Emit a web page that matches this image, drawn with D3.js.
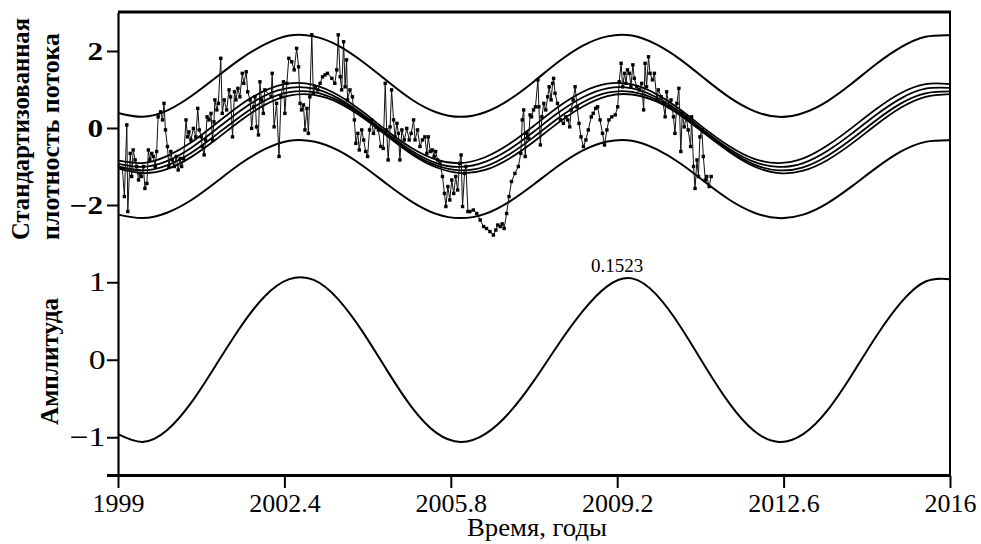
<!DOCTYPE html>
<html><head><meta charset="utf-8">
<script src="https://cdn.jsdelivr.net/npm/d3@7"></script>
<style>
body{margin:0;background:#fff}
svg{display:block}
text{font-family:"Liberation Serif","Times New Roman",serif;fill:#000}
</style>
</head><body>
<svg id="chart" width="981" height="544"></svg>
<script>
// ---- data ----
const curveYears = [1999,1999.5,2000,2000.5,2001,2001.5,2002,2002.5,2003,2003.5,2004,2004.5,2005,2005.5,2006,2006.5,2007,2007.5,2008,2008.5,2009,2009.5,2010,2010.5,2011,2011.5,2012,2012.5,2013,2013.5,2014,2014.5,2015,2015.5,2016];
const upperBand = [0.39,0.29,0.45,0.83,1.31,1.79,2.17,2.40,2.38,2.14,1.72,1.22,0.74,0.41,0.29,0.41,0.74,1.21,1.72,2.14,2.38,2.40,2.17,1.77,1.27,0.79,0.44,0.29,0.39,0.70,1.16,1.67,2.10,2.37,2.41];
const lowerBand = [-2.25,-2.34,-2.20,-1.87,-1.41,-0.93,-0.55,-0.33,-0.35,-0.58,-0.98,-1.46,-1.91,-2.23,-2.34,-2.23,-1.91,-1.46,-0.98,-0.58,-0.35,-0.33,-0.55,-0.93,-1.41,-1.87,-2.20,-2.34,-2.25,-1.95,-1.51,-1.03,-0.61,-0.36,-0.32];
const fit1 = [-0.84,-0.91,-0.73,-0.37,0.11,0.60,0.97,1.16,1.12,0.85,0.42,-0.08,-0.52,-0.82,-0.91,-0.76,-0.41,0.06,0.55,0.94,1.15,1.13,0.88,0.47,-0.03,-0.48,-0.80,-0.91,-0.79,-0.45,0.01,0.50,0.91,1.14,1.14];
const fit2 = [-0.93,-1.01,-0.86,-0.51,-0.04,0.45,0.84,1.04,1.02,0.77,0.35,-0.14,-0.59,-0.91,-1.01,-0.88,-0.55,-0.09,0.40,0.80,1.03,1.03,0.80,0.40,-0.09,-0.55,-0.88,-1.01,-0.91,-0.59,-0.14,0.35,0.77,1.02,1.04];
const fit3 = [-1.00,-1.10,-0.97,-0.64,-0.18,0.30,0.71,0.93,0.93,0.71,0.31,-0.18,-0.64,-0.97,-1.10,-1.00,-0.68,-0.23,0.26,0.67,0.92,0.94,0.74,0.35,-0.13,-0.60,-0.95,-1.10,-1.02,-0.72,-0.28,0.21,0.64,0.90,0.95];
const fit4 = [-1.05,-1.17,-1.07,-0.75,-0.30,0.19,0.60,0.84,0.86,0.66,0.27,-0.21,-0.68,-1.02,-1.17,-1.09,-0.79,-0.35,0.14,0.56,0.83,0.87,0.69,0.32,-0.16,-0.63,-1.00,-1.17,-1.11,-0.83,-0.40,0.09,0.53,0.81,0.88];
const amplitude = [-0.96,-1.06,-0.91,-0.55,-0.07,0.42,0.82,1.04,1.03,0.78,0.36,-0.14,-0.61,-0.94,-1.06,-0.96,-0.68,-0.27,0.20,0.63,0.95,1.05,0.84,0.42,-0.09,-0.57,-0.92,-1.06,-0.96,-0.65,-0.19,0.31,0.74,1.01,1.04];

const obsYears = [
1999.09,1999.13,1999.18,1999.20,1999.25,1999.28,1999.31,1999.35,1999.38,1999.42,1999.45,1999.48,1999.52,1999.55,1999.59,1999.62,1999.65,1999.69,1999.72,1999.76,1999.79,1999.82,1999.87,1999.91,1999.94,1999.97,
2000.01,2000.04,2000.08,2000.11,2000.15,2000.19,2000.23,2000.27,2000.30,2000.34,2000.39,2000.42,2000.45,2000.49,2000.54,2000.59,2000.63,2000.66,2000.70,2000.72,2000.76,2000.79,2000.82,2000.86,2000.90,2000.93,2000.96,2000.98,
2001.02,2001.05,2001.10,2001.13,2001.17,2001.22,2001.27,2001.30,2001.34,2001.38,2001.41,2001.45,2001.49,2001.54,2001.57,2001.62,2001.65,2001.70,2001.73,2001.77,2001.80,2001.83,2001.87,2001.90,2001.93,2001.97,2002.00,
2002.13,2002.15,2002.19,2002.24,2002.29,2002.33,2002.38,2002.41,2002.45,2002.49,2002.55,2002.60,2002.65,2002.69,2002.72,2002.75,2002.79,2002.82,2002.86,2002.89,2002.92,2002.96,2002.99,
2003.03,2003.08,2003.13,2003.18,2003.23,2003.28,2003.37,2003.43,2003.47,2003.50,2003.54,2003.57,2003.61,2003.64,2003.67,2003.69,2003.74,2003.79,2003.83,2003.86,2003.90,2003.93,2003.98,
2004.02,2004.06,2004.10,2004.14,2004.18,2004.22,2004.27,2004.32,2004.37,2004.42,2004.46,2004.49,2004.52,2004.56,2004.59,2004.63,2004.66,2004.70,2004.73,2004.76,2004.80,2004.85,2004.90,2004.95,2004.99,
2005.04,2005.07,2005.12,2005.17,2005.22,2005.27,2005.31,2005.34,2005.38,2005.42,2005.46,2005.49,2005.53,2005.58,2005.63,2005.67,2005.70,2005.74,2005.78,2005.82,2005.86,2005.90,2005.94,2005.98,
2006.01,2006.04,2006.08,2006.11,2006.15,2006.19,2006.26,2006.33,2006.40,2006.47,2006.53,2006.60,2006.67,2006.72,2006.76,2006.81,2006.85,2006.89,2006.94,2006.99,
2007.04,2007.11,2007.18,2007.23,2007.26,2007.29,2007.32,2007.35,2007.39,2007.42,2007.45,2007.49,2007.53,2007.58,2007.60,2007.63,2007.66,2007.70,2007.74,2007.78,2007.81,2007.85,2007.88,2007.90,2007.93,2007.98,
2008.04,2008.10,2008.15,2008.19,2008.23,2008.26,2008.30,2008.34,2008.38,2008.42,2008.46,2008.51,2008.56,2008.61,2008.67,2008.71,2008.76,2008.80,2008.85,2008.90,2008.94,2008.99,
2009.03,2009.09,2009.16,2009.21,2009.24,2009.28,2009.31,2009.35,2009.38,2009.41,2009.45,2009.48,2009.52,2009.55,2009.60,2009.65,2009.70,2009.74,2009.77,2009.80,2009.84,2009.87,2009.92,2009.96,
2010.01,2010.04,2010.10,2010.14,2010.18,2010.21,2010.26,2010.30,2010.35,2010.38,2010.42,2010.46,2010.50,2010.53,2010.57,2010.61,2010.65,2010.70,2010.72,2010.76,2010.79,2010.83,2010.86,2010.89,2010.93,2010.96,
2011.00,2011.03,2011.08,2011.12];
const obsValues = [
-1.05,-1.78,0.08,-2.17,-0.66,-1.26,-0.57,-0.83,-1.00,-1.35,-1.18,-1.26,-1.00,-1.57,-1.44,-0.57,-0.83,-0.66,-0.74,-1.00,-0.61,0.29,0.42,0.21,0.64,-0.05,
-0.48,-1.00,-0.61,-0.83,-1.00,-0.74,-1.09,-0.79,-1.00,-0.79,0.21,-0.23,-0.10,-0.31,-0.01,-0.23,0.51,-0.05,-0.23,-0.48,-0.70,-0.31,0.29,0.21,0.38,-0.31,0.16,0.73,
0.47,0.64,1.81,0.38,0.73,0.47,0.99,0.81,-0.23,0.94,0.73,1.03,0.81,1.42,1.16,1.46,0.94,0.73,-0.01,0.55,0.81,0.03,-0.18,1.20,0.73,0.38,0.99,
0.81,1.42,0.03,0.64,-0.74,0.81,1.20,0.38,1.16,1.81,1.72,1.51,2.07,1.59,0.64,0.47,0.60,-0.05,0.51,-0.14,0.81,2.42,0.90,
1.07,0.99,1.16,1.33,1.38,1.42,1.29,1.16,1.51,2.42,1.33,0.99,2.24,1.07,1.77,0.73,0.99,0.81,0.21,-0.40,-0.14,-0.57,-0.05,
-0.31,-0.61,-0.74,-0.05,0.21,-0.14,0.03,-0.05,-0.48,-0.53,1.16,-0.05,-0.83,0.03,0.99,0.21,-0.23,0.12,-0.14,-0.83,-0.05,-0.31,-0.01,-0.31,-0.14,
0.21,-0.31,-0.05,-0.48,-0.31,-0.23,-0.66,-0.23,-0.61,-0.57,-0.74,-0.61,-0.83,-0.92,-1.26,-1.70,-2.04,-1.52,-1.87,-1.35,-1.70,-1.26,-1.61,-0.92,
-0.70,-2.04,-1.18,-1.00,-2.17,-2.17,-2.13,-2.22,-2.39,-2.56,-2.61,-2.69,-2.78,-2.65,-2.52,-2.56,-2.49,-2.61,-2.22,-1.78,
-1.39,-1.18,-1.00,-0.66,0.21,0.47,-0.74,-0.14,-0.27,0.34,0.29,0.47,0.55,1.25,0.55,-0.44,0.29,0.64,0.47,0.81,1.07,0.73,1.16,1.29,0.90,0.64,
0.21,0.12,0.29,0.21,0.03,0.47,0.73,1.07,0.55,0.12,-0.23,-0.48,-0.31,-0.05,0.29,0.38,0.51,0.55,0.21,-0.14,-0.44,-0.05,
0.21,0.29,0.34,0.55,1.20,1.68,1.07,1.42,1.16,1.51,1.42,1.07,1.64,1.29,1.07,0.99,1.16,0.47,1.68,1.07,1.85,1.42,1.25,1.42,
0.73,0.99,0.81,0.64,0.29,0.94,0.55,0.73,0.29,-0.14,0.64,1.03,-0.61,0.38,0.03,0.29,-0.05,-0.48,0.29,-1.00,-1.57,-0.83,-1.26,-0.23,-0.05,-0.74,
-1.35,-1.26,-1.52,-1.26];

const xTicks = [1999, 2002.4, 2005.8, 2009.2, 2012.6, 2016];
const xTickLabels = ["1999", "2002.4", "2005.8", "2009.2", "2012.6", "2016"];
const topTicks = [-2, 0, 2];
const topTickLabels = ["\u22122", "0", "2"];
const bottomTicks = [-1, 0, 1];
const bottomTickLabels = ["\u22121", "0", "1"];
const peakLabel = {year: 2009.2, value: 1.05, text: "0.1523"};

// ---- drawing ----
const FONT = '"Liberation Serif","Times New Roman",serif';
const svg = d3.select("#chart");
const x = d3.scaleLinear().domain([1999, 2016]).range([118, 950]);
const yTop = d3.scaleLinear().domain([-3, 3]).range([243.5, 12.5]);
const yBot = d3.scaleLinear().domain([-1.5, 1.5]).range([476, 243.5]);

const topLine = d3.line().x((d, i) => x(curveYears[i])).y(d => yTop(d)).curve(d3.curveNatural);
const botLine = d3.line().x((d, i) => x(curveYears[i])).y(d => yBot(d)).curve(d3.curveNatural);

// envelopes
[upperBand, lowerBand].forEach(arr => {
  svg.append("path").attr("d", topLine(arr)).attr("fill", "none").attr("stroke", "#000").attr("stroke-width", 2);
});
// fitted bundle
[fit1, fit2, fit3, fit4].forEach(arr => {
  svg.append("path").attr("d", topLine(arr)).attr("fill", "none").attr("stroke", "#000").attr("stroke-width", 1.8);
});

// observations
const obs = obsYears.map((t, i) => [t, obsValues[i]]);
svg.append("path")
  .attr("d", d3.line().x(d => x(d[0])).y(d => yTop(d[1]))(obs))
  .attr("fill", "none").attr("stroke", "#111").attr("stroke-width", 1);
svg.append("g").selectAll("rect").data(obs).join("rect")
  .attr("x", d => x(d[0]) - 1.7).attr("y", d => yTop(d[1]) - 1.7)
  .attr("width", 3.4).attr("height", 3.4).attr("fill", "#000");

// amplitude
svg.append("path").attr("d", botLine(amplitude)).attr("fill", "none").attr("stroke", "#000").attr("stroke-width", 2);
svg.append("text").attr("x", x(peakLabel.year)).attr("y", yBot(peakLabel.value) - 6)
  .attr("text-anchor", "middle").attr("font-size", 19).text(peakLabel.text);

// frame
svg.append("line").attr("x1", 118).attr("x2", 951).attr("y1", 12).attr("y2", 12).attr("stroke", "#000").attr("stroke-width", 3);
svg.append("line").attr("x1", 950).attr("x2", 950).attr("y1", 11).attr("y2", 476).attr("stroke", "#000").attr("stroke-width", 2);
svg.append("line").attr("x1", 107).attr("x2", 951).attr("y1", 475.5).attr("y2", 475.5).attr("stroke", "#000").attr("stroke-width", 3);

// x axis
const xAxis = svg.append("g").attr("transform", "translate(0,476)")
  .call(d3.axisBottom(x).tickValues(xTicks).tickFormat((d, i) => xTickLabels[i]).tickSize(12).tickSizeOuter(0).tickPadding(6));
xAxis.select(".domain").remove();
xAxis.selectAll(".tick line").attr("stroke", "#000").attr("stroke-width", 2);
xAxis.selectAll("text").attr("font-size", 26).attr("font-family", FONT).attr("fill", "#000");

// y axes
function yAxis(scale, ticks, labels, bold) {
  const g = svg.append("g").attr("transform", "translate(118,0)")
    .call(d3.axisLeft(scale).tickValues(ticks).tickFormat((d, i) => labels[i]).tickSize(11).tickSizeOuter(0).tickPadding(4));
  g.select(".domain").attr("stroke", "#000").attr("stroke-width", 2.2);
  g.selectAll(".tick line").attr("stroke", "#000").attr("stroke-width", 2);
  g.selectAll("text").attr("font-size", bold ? 25 : 27).attr("font-weight", bold ? "bold" : "normal")
    .attr("font-family", FONT).attr("fill", "#000")
    .attr("x", bold ? -12 : -10).attr("transform", "scale(1.25,1)");
}
yAxis(yTop, topTicks, topTickLabels, true);
yAxis(yBot, bottomTicks, bottomTickLabels, false);

// titles
svg.append("text").attr("transform", "translate(29,240) rotate(-90)")
  .attr("font-size", 25).attr("font-weight", "bold").attr("textLength", 222).attr("lengthAdjust", "spacingAndGlyphs")
  .text("Стандартизованная");
svg.append("text").attr("transform", "translate(59,240) rotate(-90)")
  .attr("font-size", 25).attr("font-weight", "bold").attr("textLength", 207).attr("lengthAdjust", "spacingAndGlyphs")
  .text("плотность потока");
svg.append("text").attr("transform", "translate(58,361.5) rotate(-90)")
  .attr("text-anchor", "middle").attr("font-size", 25).attr("font-weight", "bold").attr("textLength", 127).attr("lengthAdjust", "spacingAndGlyphs")
  .text("Амплитуда");
svg.append("text").attr("x", 537).attr("y", 536)
  .attr("text-anchor", "middle").attr("font-size", 25).attr("textLength", 140).attr("lengthAdjust", "spacingAndGlyphs")
  .text("Время, годы");
</script>
</body></html>
